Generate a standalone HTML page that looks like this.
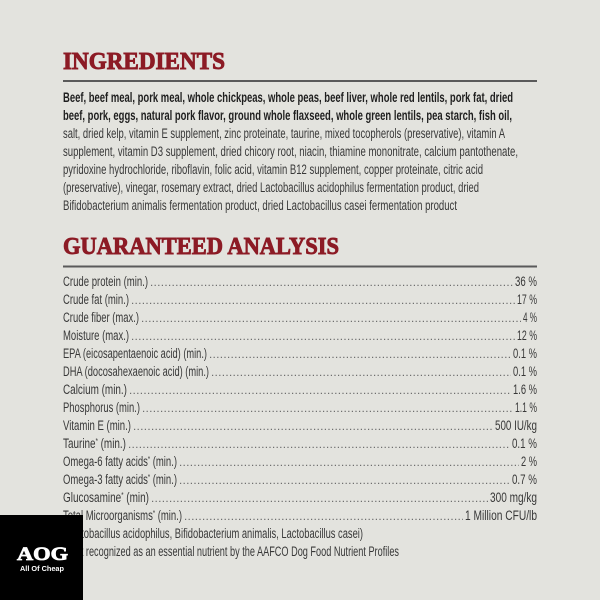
<!DOCTYPE html>
<html>
<head>
<meta charset="utf-8">
<style>
  html,body{margin:0;padding:0;background:#e3e3de;}
  svg{display:block;}
  .h{font-family:"Liberation Serif",serif;font-weight:bold;fill:#8c1b25;stroke:#8c1b25;stroke-width:0.9;font-size:24px;}
  .b{font-family:"Liberation Sans Narrow","Liberation Sans",sans-serif;font-weight:bold;fill:#1e1e1e;font-size:14px;}
  .r{font-family:"Liberation Sans Narrow","Liberation Sans",sans-serif;fill:#383838;font-size:13.5px;}
  .d{stroke:#6e6e6e;stroke-width:1.3;stroke-dasharray:1.2 2.4;}
</style>
</head>
<body>
<svg width="600" height="600" viewBox="0 0 600 600" xmlns="http://www.w3.org/2000/svg">
  <rect x="0" y="0" width="600" height="600" fill="#e3e3de"/>

  <!-- INGREDIENTS -->
  <text class="h" x="63" y="69" textLength="162" lengthAdjust="spacingAndGlyphs">INGREDIENTS</text>
  <rect x="63" y="80" width="474" height="2" fill="#5a5a5a"/>

  <text class="b" x="63" y="102" textLength="450" lengthAdjust="spacingAndGlyphs">Beef, beef meal, pork meal, whole chickpeas, whole peas, beef liver, whole red lentils, pork fat, dried</text>
  <text class="b" x="63" y="120" textLength="449" lengthAdjust="spacingAndGlyphs">beef, pork, eggs, natural pork flavor, ground whole flaxseed, whole green lentils, pea starch, fish oil,</text>
  <text class="r" x="63" y="138" textLength="442" lengthAdjust="spacingAndGlyphs">salt, dried kelp, vitamin E supplement, zinc proteinate, taurine, mixed tocopherols (preservative), vitamin A</text>
  <text class="r" x="63" y="156" textLength="455" lengthAdjust="spacingAndGlyphs">supplement, vitamin D3 supplement, dried chicory root, niacin, thiamine mononitrate, calcium pantothenate,</text>
  <text class="r" x="63" y="174" textLength="420" lengthAdjust="spacingAndGlyphs">pyridoxine hydrochloride, riboflavin, folic acid, vitamin B12 supplement, copper proteinate, citric acid</text>
  <text class="r" x="63" y="192" textLength="416" lengthAdjust="spacingAndGlyphs">(preservative), vinegar, rosemary extract, dried Lactobacillus acidophilus fermentation product, dried</text>
  <text class="r" x="63" y="210" textLength="394" lengthAdjust="spacingAndGlyphs">Bifidobacterium animalis fermentation product, dried Lactobacillus casei fermentation product</text>

  <!-- GUARANTEED ANALYSIS -->
  <text class="h" x="63" y="254" textLength="276" lengthAdjust="spacingAndGlyphs">GUARANTEED ANALYSIS</text>
  <rect x="63" y="265.5" width="474" height="2" fill="#5a5a5a"/>

  <text class="r" x="63" y="286" textLength="85" lengthAdjust="spacingAndGlyphs">Crude protein (min.)</text>
  <line class="d" x1="151" y1="285.4" x2="514" y2="285.4"/>
  <text class="r" x="515" y="286" textLength="22" lengthAdjust="spacingAndGlyphs">36 %</text>

  <text class="r" x="63" y="304" textLength="66" lengthAdjust="spacingAndGlyphs">Crude fat (min.)</text>
  <line class="d" x1="132" y1="303.4" x2="515" y2="303.4"/>
  <text class="r" x="517" y="304" textLength="20" lengthAdjust="spacingAndGlyphs">17 %</text>

  <text class="r" x="63" y="322" textLength="76" lengthAdjust="spacingAndGlyphs">Crude fiber (max.)</text>
  <line class="d" x1="142" y1="321.4" x2="521" y2="321.4"/>
  <text class="r" x="523" y="322" textLength="14" lengthAdjust="spacingAndGlyphs">4 %</text>

  <text class="r" x="63" y="340" textLength="66" lengthAdjust="spacingAndGlyphs">Moisture (max.)</text>
  <line class="d" x1="132" y1="339.4" x2="515" y2="339.4"/>
  <text class="r" x="517" y="340" textLength="20" lengthAdjust="spacingAndGlyphs">12 %</text>

  <text class="r" x="63" y="358" textLength="144" lengthAdjust="spacingAndGlyphs">EPA (eicosapentaenoic acid) (min.)</text>
  <line class="d" x1="210" y1="357.4" x2="511" y2="357.4"/>
  <text class="r" x="513" y="358" textLength="24" lengthAdjust="spacingAndGlyphs">0.1 %</text>

  <text class="r" x="63" y="376" textLength="146" lengthAdjust="spacingAndGlyphs">DHA (docosahexaenoic acid) (min.)</text>
  <line class="d" x1="212" y1="375.4" x2="511" y2="375.4"/>
  <text class="r" x="513" y="376" textLength="24" lengthAdjust="spacingAndGlyphs">0.1 %</text>

  <text class="r" x="63" y="394" textLength="64" lengthAdjust="spacingAndGlyphs">Calcium (min.)</text>
  <line class="d" x1="130" y1="393.4" x2="511" y2="393.4"/>
  <text class="r" x="513" y="394" textLength="24" lengthAdjust="spacingAndGlyphs">1.6 %</text>

  <text class="r" x="63" y="412" textLength="77" lengthAdjust="spacingAndGlyphs">Phosphorus (min.)</text>
  <line class="d" x1="143" y1="411.4" x2="513" y2="411.4"/>
  <text class="r" x="515" y="412" textLength="22" lengthAdjust="spacingAndGlyphs">1.1 %</text>

  <text class="r" x="63" y="430" textLength="68" lengthAdjust="spacingAndGlyphs">Vitamin E (min.)</text>
  <line class="d" x1="134" y1="429.4" x2="493" y2="429.4"/>
  <text class="r" x="495" y="430" textLength="42" lengthAdjust="spacingAndGlyphs">500 IU/kg</text>

  <text class="r" x="63" y="448" textLength="63" lengthAdjust="spacingAndGlyphs">Taurine<tspan font-size="8" dy="-4">*</tspan><tspan dy="4"> (min.)</tspan></text>
  <line class="d" x1="129" y1="447.4" x2="510" y2="447.4"/>
  <text class="r" x="512" y="448" textLength="25" lengthAdjust="spacingAndGlyphs">0.1 %</text>

  <text class="r" x="63" y="466" textLength="114" lengthAdjust="spacingAndGlyphs">Omega-6 fatty acids<tspan font-size="8" dy="-4">*</tspan><tspan dy="4"> (min.)</tspan></text>
  <line class="d" x1="180" y1="465.4" x2="519" y2="465.4"/>
  <text class="r" x="521" y="466" textLength="16" lengthAdjust="spacingAndGlyphs">2 %</text>

  <text class="r" x="63" y="484" textLength="114" lengthAdjust="spacingAndGlyphs">Omega-3 fatty acids<tspan font-size="8" dy="-4">*</tspan><tspan dy="4"> (min.)</tspan></text>
  <line class="d" x1="180" y1="483.4" x2="510" y2="483.4"/>
  <text class="r" x="512" y="484" textLength="25" lengthAdjust="spacingAndGlyphs">0.7 %</text>

  <text class="r" x="63" y="502" textLength="86" lengthAdjust="spacingAndGlyphs">Glucosamine<tspan font-size="8" dy="-4">*</tspan><tspan dy="4"> (min)</tspan></text>
  <line class="d" x1="152" y1="501.4" x2="488" y2="501.4"/>
  <text class="r" x="490" y="502" textLength="47" lengthAdjust="spacingAndGlyphs">300 mg/kg</text>

  <text class="r" x="63" y="520" textLength="119" lengthAdjust="spacingAndGlyphs">Total Microorganisms<tspan font-size="8" dy="-4">*</tspan><tspan dy="4"> (min.)</tspan></text>
  <line class="d" x1="185" y1="519.4" x2="463" y2="519.4"/>
  <text class="r" x="465" y="520" textLength="72" lengthAdjust="spacingAndGlyphs">1 Million CFU/lb</text>

  <text class="r" x="63" y="538" textLength="300" lengthAdjust="spacingAndGlyphs">(Lactobacillus acidophilus, Bifidobacterium animalis, Lactobacillus casei)</text>
  <text class="r" x="63" y="556" textLength="336" lengthAdjust="spacingAndGlyphs">* Not recognized as an essential nutrient by the AAFCO Dog Food Nutrient Profiles</text>

  <!-- AOG badge -->
  <rect x="0" y="515" width="83" height="85" fill="#000"/>
  <text x="17" y="560" font-family="Liberation Serif, serif" font-weight="bold" font-size="19" fill="#fff" stroke="#fff" stroke-width="0.8" textLength="51" lengthAdjust="spacingAndGlyphs">AOG</text>
  <text x="20" y="571" font-family="Liberation Sans, sans-serif" font-weight="bold" font-size="7.5" fill="#fff" textLength="44" lengthAdjust="spacingAndGlyphs">All Of Cheap</text>
</svg>
</body>
</html>
